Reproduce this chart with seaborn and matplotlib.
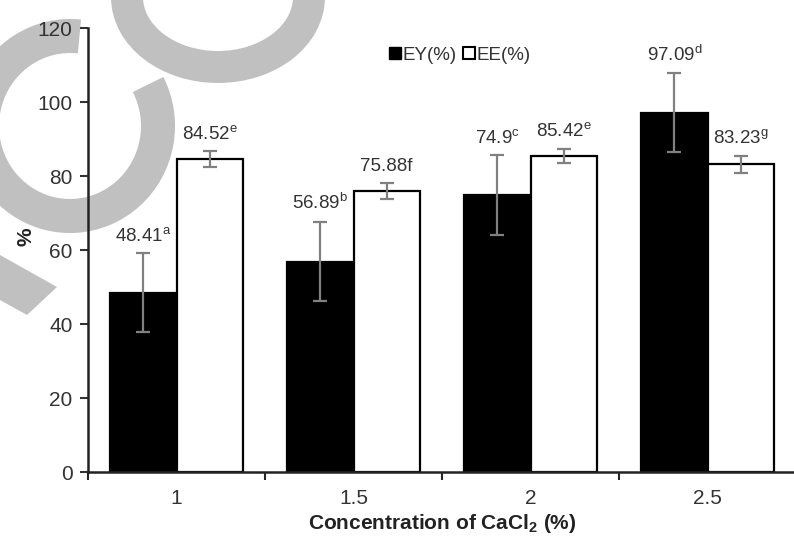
import numpy as np
import pandas as pd
import matplotlib
matplotlib.use("Agg")
import matplotlib.pyplot as plt
from matplotlib.patches import Arc, Polygon
from matplotlib.lines import Line2D
import seaborn as sns

## data
conc = ["1", "1.5", "2", "2.5"]
ey = [48.41, 56.89, 74.9, 97.09]
ee = [84.52, 75.88, 85.42, 83.23]
ey_sd = [10.7, 10.8, 10.8, 10.7]
ee_sd = [2.2, 2.2, 2.0, 2.3]
ey_labels = ["48.41$^{a}$", "56.89$^{b}$", "74.9$^{c}$", "97.09$^{d}$"]
ee_labels = ["84.52$^{e}$", "75.88f", "85.42$^{e}$", "83.23$^{g}$"]
series = ["EY(%)", "EE(%)"]

df = pd.DataFrame({
    "conc": conc * 2,
    "value": ey + ee,
    "series": [series[0]] * 4 + [series[1]] * 4,
})

## theme
sns.set_theme(style="white")
plt.rcParams["font.family"] = ["Liberation Sans", "DejaVu Sans"]
plt.rcParams["mathtext.default"] = "regular"

W, H = 794, 536
fig = plt.figure(figsize=(W / 100, H / 100), dpi=100)

# watermark layer behind the chart (pixel coords, y up)
bg = fig.add_axes([0, 0, 1, 1], zorder=0)
bg.set_xlim(0, W)
bg.set_ylim(0, H)
bg.axis("off")
wm = "#c0c0c0"
bg.add_patch(Arc((218, H + 3), 182, 140, theta1=0, theta2=360, color=wm, lw=23))
bg.add_patch(Arc((70, H - 126), 176, 180, theta1=84, theta2=388, color=wm, lw=24.5))
bg.add_patch(Polygon([(0, H - 255), (57, H - 287), (27, H - 315), (0, H - 300)],
                     color=wm, lw=0))

## bars
ax = fig.add_axes([88 / W, (H - 472) / H, 708 / W, 444 / H], zorder=1)
ax.patch.set_alpha(0)
sns.barplot(
    data=df, x="conc", y="value", hue="series",
    palette={"EY(%)": "black", "EE(%)": "white"},
    edgecolor="black", linewidth=1.6, width=0.75,
    errorbar=None, legend=False, ax=ax,
)

for cont, sd, labels in zip(ax.containers, [ey_sd, ee_sd], [ey_labels, ee_labels]):
    for bar, err, lab in zip(cont, sd, labels):
        xc = bar.get_x() + bar.get_width() / 2
        h = bar.get_height()
        ax.errorbar(xc, h, yerr=err, color="#808080", lw=1.6,
                    capsize=5, capthick=1.6, zorder=3)
        ax.annotate(lab, (xc, h + err), xytext=(0, 6), textcoords="offset points",
                    ha="center", va="bottom", fontsize=13.5, color="#333333")

## axes styling
ax.set_xlim(-0.5, 3.5)
ax.set_ylim(0, 120)
ax.set_yticks(range(0, 121, 20))
ax.set_xticks(range(4))
ax.set_xticklabels(conc)
ax.set_xticks(np.arange(-0.5, 4, 1), minor=True)
ax.tick_params(axis="x", which="major", length=0, labelsize=15, pad=12, colors="#333333")
ax.tick_params(axis="x", which="minor", length=6, width=1.5, direction="out", bottom=True)
ax.tick_params(axis="y", length=6, width=1.5, direction="out", left=True,
               labelsize=15, pad=5, colors="#333333")
for s in ["top", "right"]:
    ax.spines[s].set_visible(False)
for s in ["left", "bottom"]:
    ax.spines[s].set_color("#222222")
    ax.spines[s].set_linewidth(1.8)

ax.set_xlabel("Concentration of CaCl$_2$ (%)", fontsize=15, fontweight="bold",
              color="#222222")
ax.xaxis.set_label_coords(0.5, (472 - 512) / 444)
ax.set_ylabel("%", fontsize=15, fontweight="bold", color="#222222")
ax.yaxis.set_label_coords((36 - 88) / 708, (472 - 237) / 444)

# legend
handles = [
    Line2D([], [], marker="s", ls="", markersize=8, markerfacecolor="black",
           markeredgecolor="black"),
    Line2D([], [], marker="s", ls="", markersize=8, markerfacecolor="white",
           markeredgecolor="black", markeredgewidth=1.5),
]
ax.legend(handles, series, loc="center", bbox_to_anchor=((460 - 88) / 708, (472 - 55) / 444),
          ncol=2, frameon=False, fontsize=13.5, handlelength=0.6, handletextpad=0.1,
          columnspacing=0.4, labelcolor="#333333")

fig.savefig("out.png", dpi=100)
